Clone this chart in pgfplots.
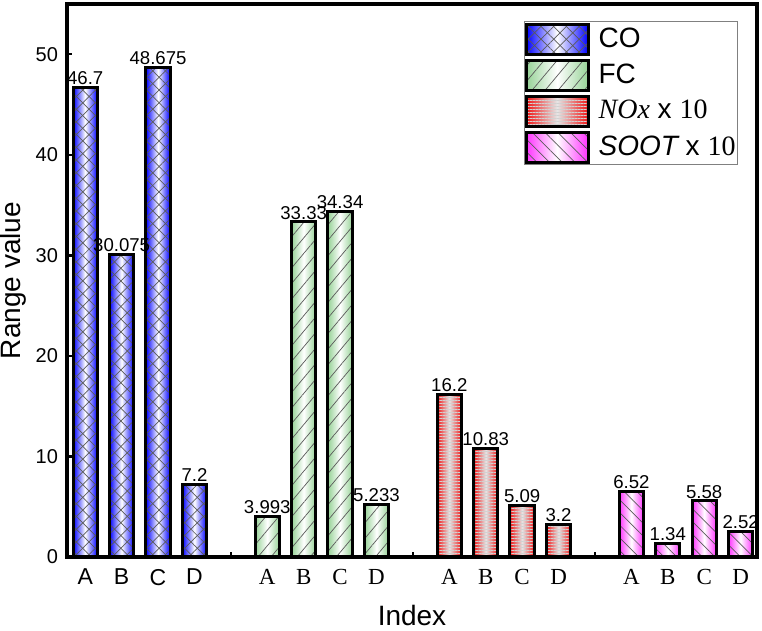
\documentclass[border=0pt]{standalone}
\usepackage{pgfplots}
\pgfplotsset{compat=1.18}
\usetikzlibrary{patterns,patterns.meta}
\usepackage{fontspec}
\setmainfont{Liberation Sans}
\newfontfamily\tnr{Liberation Serif}

\definecolor{cob}{RGB}{0,0,255}
\definecolor{fcg}{RGB}{150,210,150}
\definecolor{noxr}{RGB}{240,20,20}
\definecolor{sootm}{RGB}{255,50,255}
\definecolor{hatch}{RGB}{90,90,90}

\pgfplotsset{
  boxlegend/.style={legend image code/.code={\draw[##1] (0pt,-7.5pt) rectangle (31pt,7.5pt);}},
  barbase/.style={ybar, bar width=0.67, bar shift=0pt, draw=black, line width=1.5pt},
  costyle/.style={barbase,
    preaction={left color=cob, right color=cob, middle color=white},
    pattern={Lines[angle=45,distance=4.5pt,line width=0.35pt]}, pattern color=hatch,
    postaction={pattern={Lines[angle=-45,distance=4.5pt,line width=0.35pt]}, pattern color=hatch},
    boxlegend},
  fcstyle/.style={barbase,
    preaction={left color=fcg, right color=fcg, middle color=white},
    pattern={Lines[angle=50,distance=5pt,line width=0.35pt]}, pattern color=hatch,
    boxlegend},
  noxstyle/.style={barbase,
    preaction={left color=noxr, right color=noxr, middle color=white!90!black},
    pattern={Lines[angle=0,distance=1.5pt,line width=0.3pt]}, pattern color=white!82!black,
    boxlegend},
  sootstyle/.style={barbase,
    preaction={left color=sootm, right color=sootm, middle color=white},
    pattern={Lines[angle=-45,distance=4.5pt,line width=0.35pt]}, pattern color=hatch,
    boxlegend},
}

\begin{document}
\begin{tikzpicture}
\path[use as bounding box] (-33.5pt,-37pt) rectangle (347.5pt,278.5pt);
\begin{axis}[
  at={(0pt,0pt)}, anchor=south west,
  scale only axis, width=345pt, height=276.5pt,
  xmin=-0.5, xmax=18.45, ymin=0, ymax=55,
  xtick={0,...,18},
  xticklabels={A,B,C,D,{},{\tnr A},{\tnr B},{\tnr C},{\tnr D},{},{\tnr A},{\tnr B},{\tnr C},{\tnr D},{},{\tnr A},{\tnr B},{\tnr C},{\tnr D}},
  ytick={0,10,20,30,40,50},
  xtick pos=bottom, ytick pos=left,
  tick align=inside,
  major tick length=2.5pt,
  every tick/.style={black, line width=1.2pt},
  axis line style={line width=1.6pt},
  /pgf/number format/assume math mode=true,
  yticklabel style={font=\fontsize{10}{12}\selectfont, xshift=-1pt},
  xticklabel style={font=\fontsize{11.5}{13}\selectfont, yshift=-2.5pt},
  xlabel={Index}, ylabel={Range value},
  label style={font=\fontsize{14}{16}\selectfont},
  xlabel style={yshift=-3pt},
  ylabel style={yshift=-2pt},
  nodes near coords,
  point meta=explicit symbolic,
  every node near coord/.append style={font=\fontsize{9.3}{10}\selectfont, anchor=south, inner sep=0.6pt, black},
  legend style={at={(0.9725,0.969)}, anchor=north east, draw=gray, line width=0.5pt,
    font=\fontsize{14}{16}\selectfont, inner xsep=0pt, inner ysep=0.5pt,
    nodes={inner sep=1pt},
    row sep=1.5pt, /tikz/every odd column/.append style={column sep=3.5pt},
    /tikz/every even column/.append style={column sep=2pt}},
  legend cell align=left,
]
\addplot[costyle] coordinates {(0,46.7) [46.7]};
\addlegendentry{CO}
\addplot[fcstyle] coordinates {(5,3.993) [3.993]};
\addlegendentry{FC}
\addplot[noxstyle] coordinates {(10,16.2) [16.2]};
\addlegendentry{{\tnr\itshape NOx} x {\tnr 10}}
\addplot[sootstyle] coordinates {(15,6.52) [6.52]};
\addlegendentry{{\itshape SOOT} x {\tnr 10}}

\addplot[costyle, forget plot] coordinates {(1,30.075) [30.075]};
\addplot[costyle, forget plot] coordinates {(2,48.675) [48.675]};
\addplot[costyle, forget plot] coordinates {(3,7.2) [7.2]};

\addplot[fcstyle, forget plot] coordinates {(6,33.33) [33.33]};
\addplot[fcstyle, forget plot] coordinates {(7,34.34) [34.34]};
\addplot[fcstyle, forget plot] coordinates {(8,5.233) [5.233]};

\addplot[noxstyle, forget plot] coordinates {(11,10.83) [10.83]};
\addplot[noxstyle, forget plot] coordinates {(12,5.09) [5.09]};
\addplot[noxstyle, forget plot] coordinates {(13,3.2) [3.2]};

\addplot[sootstyle, forget plot] coordinates {(16,1.34) [1.34]};
\addplot[sootstyle, forget plot] coordinates {(17,5.58) [5.58]};
\addplot[sootstyle, forget plot] coordinates {(18,2.52) [2.52]};
\end{axis}
\end{tikzpicture}
\end{document}
